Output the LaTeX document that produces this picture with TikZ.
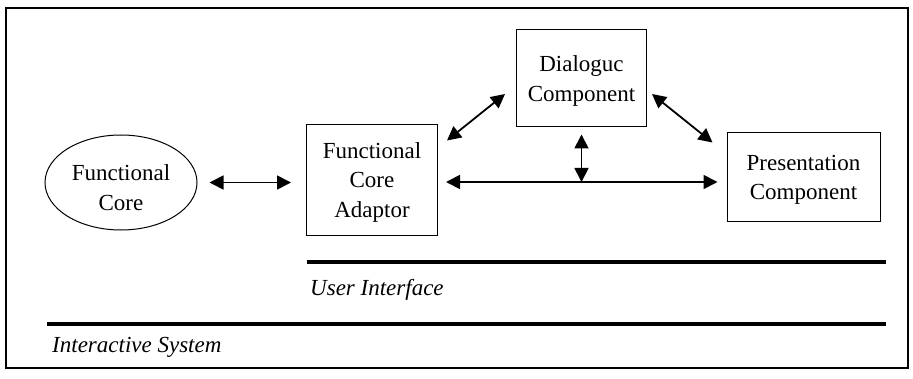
\documentclass[tikz,border=0pt]{standalone}
\usepackage{fontspec}
\setmainfont{Liberation Serif}
\usetikzlibrary{arrows.meta,shapes.geometric}

\begin{document}
\begin{tikzpicture}[x=1pt,y=1pt,
    comp/.style={draw,line width=1pt,rectangle,align=center,inner sep=0pt,text depth=0pt,
      font=\fontsize{23}{29.5}\selectfont},
    biarrow/.style={line width=1.8pt,
      {Triangle[length=14pt,width=14pt]}-{Triangle[length=14pt,width=14pt]}},
    layer/.style={line width=4pt},
    layername/.style={anchor=west,inner sep=0pt,font=\fontsize{23}{28}\selectfont\itshape}]
    \useasboundingbox (0,0) rectangle (913,378);
    \draw[line width=2pt] (6,10) rectangle (908,370);

    \node[comp,ellipse,minimum width=152pt,minimum height=95pt,
      label={[comp,draw=none,yshift=-5pt]center:Functional\\Core}] (core) at (121,195.5) {};
    \node[comp,minimum width=131pt,minimum height=110pt] (adaptor) at (372,198) {Functional\\Core\\Adaptor};
    \node[comp,minimum width=130pt,minimum height=97pt] (dialog) at (581.5,299.5) {Dialoguc\\Component};
    \node[comp,minimum width=153pt,minimum height=89pt] (present) at (803.5,200.5) {Presentation\\Component};

    \draw[biarrow] ([xshift=12pt]core.east) -- ([xshift=-15pt,yshift=-2.5pt]adaptor.west);
    \draw[biarrow] ([xshift=9pt,yshift=-16pt]adaptor.north east) -- ([xshift=-11pt,yshift=-15.5pt]dialog.west);
    \draw[biarrow] ([xshift=5pt,yshift=-15.5pt]dialog.east) -- ([xshift=-14pt,yshift=-10pt]present.north west);
    \coordinate (hl) at ([xshift=8pt,yshift=-2pt]adaptor.east);
    \coordinate (hr) at ([xshift=-9pt]present.west |- hl);
    \draw[biarrow] (hl) -- (hr);
    \draw[biarrow] ([yshift=-7pt]dialog.south) -- (dialog.south |- hl);

    \draw[layer] (307,116) -- (886,116);
    \node[layername] (ui) at (310,88) {User Interface};
    \draw[layer] (47,54) -- (886,54);
    \node[layername] (is) at (52,31) {Interactive System};
  \end{tikzpicture}
\end{document}
